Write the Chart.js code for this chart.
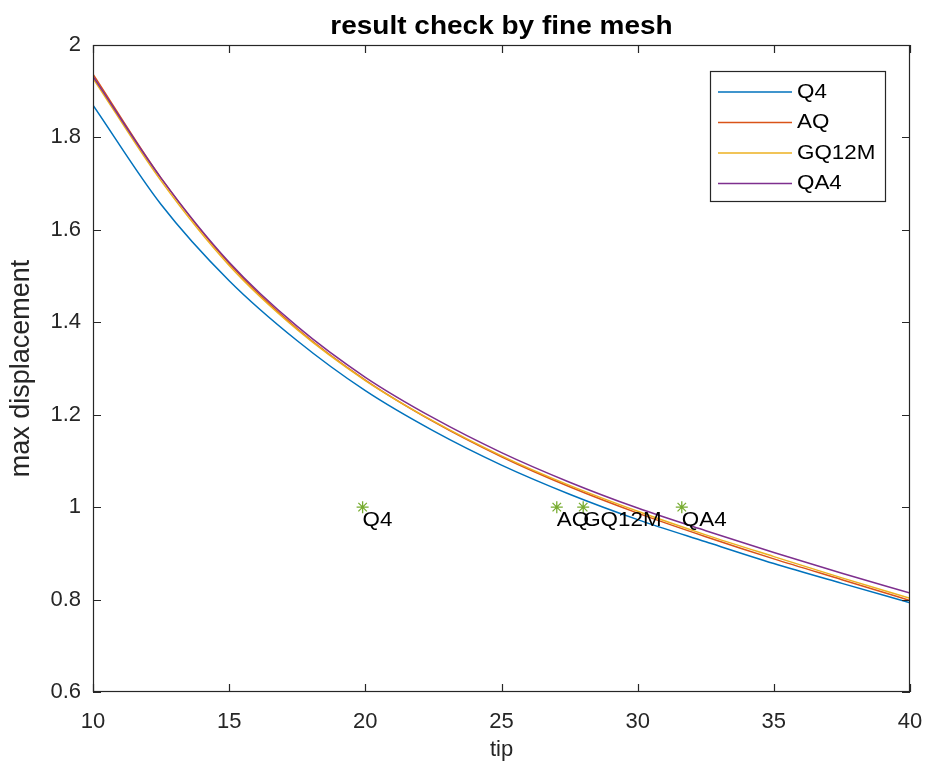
<!DOCTYPE html>
<html>
<head>
<meta charset="utf-8">
<script src="https://cdn.jsdelivr.net/npm/chart.js@4.4.1/dist/chart.umd.min.js"></script>
<style>
  html, body { margin: 0; padding: 0; background: #ffffff; }
  #c { display: block; }
</style>
</head>
<body>
<canvas id="c" width="929" height="774"></canvas>
<script>
// ---------- data ----------
const tipValues = [10, 12.5, 15, 17.5, 20, 22.5, 25, 27.5, 30, 32.5, 35, 37.5, 40];
const q4Disp    = [1.870, 1.655, 1.490, 1.360, 1.252, 1.165, 1.091, 1.028, 0.973, 0.925, 0.878, 0.835, 0.793];
const aqDisp    = [1.937, 1.712, 1.527, 1.386, 1.275, 1.185, 1.109, 1.044, 0.987, 0.936, 0.888, 0.843, 0.798];
const gq12mDisp = [1.928, 1.706, 1.523, 1.384, 1.274, 1.186, 1.111, 1.047, 0.991, 0.940, 0.893, 0.847, 0.803];
const qa4Disp   = [1.932, 1.712, 1.530, 1.391, 1.281, 1.193, 1.118, 1.054, 0.998, 0.949, 0.902, 0.857, 0.814];
const seriesNames = ['Q4', 'AQ', 'GQ12M', 'QA4'];

const markerX = [19.9, 27.03, 28.0, 31.62];
const markerY = [1, 1, 1, 1];
const markerLabels = ['Q4', 'AQ', 'GQ12M', 'QA4'];
const markerLabelY = 0.972;

const xTickValues = [10, 15, 20, 25, 30, 35, 40];
const yTickValues = [0.6, 0.8, 1, 1.2, 1.4, 1.6, 1.8, 2];

const chartTitle = 'result check by fine mesh';
const xTitle = 'tip';
const yTitle = 'max displacement';

// ---------- styles ----------
const seriesColors = ['#0072BD', '#D95319', '#EDB120', '#7E2F8E'];
const markerColor = '#77AC30';
const axisColor = '#262626';
const FONT = '"Liberation Sans", Arial, Helvetica, sans-serif';

const seriesArrays = [q4Disp, aqDisp, gq12mDisp, qa4Disp];
const datasets = seriesArrays.map((arr, i) => ({
  label: seriesNames[i],
  data: tipValues.map((x, j) => ({ x: x, y: arr[j] })),
  borderColor: seriesColors[i],
  backgroundColor: seriesColors[i],
  borderWidth: 1.5,
  pointRadius: 0,
  fill: false,
  cubicInterpolationMode: 'monotone',
  order: 4 - i,
  isSeries: true
}));
datasets.push({
  label: 'markers',
  type: 'scatter',
  data: markerX.map((x, j) => ({ x: x, y: markerY[j] })),
  borderColor: markerColor,
  backgroundColor: markerColor,
  pointStyle: 'star',
  pointRadius: 6,
  pointBorderWidth: 1.3,
  showLine: false,
  order: 0,
  isSeries: false
});

// draw text stretched horizontally (reference text is wider than tall)
const SX = 1.12;
function stretchedText(ctx, text, x, y, align) {
  ctx.save();
  ctx.translate(x, y);
  ctx.scale(SX, 1);
  ctx.textAlign = align;
  ctx.fillText(text, 0, 0);
  ctx.restore();
}

// ---------- plugins ----------
const framePlugin = {
  id: 'frame',
  afterDatasetsDraw(chart) {
    const { ctx, chartArea: a, scales: { x, y } } = chart;
    ctx.save();
    ctx.strokeStyle = axisColor;
    ctx.lineWidth = 1.2;
    ctx.strokeRect(a.left + 0.5, a.top + 0.5, a.right - a.left - 1, a.bottom - a.top - 1);
    const tl = 8;
    ctx.beginPath();
    xTickValues.forEach(v => {
      const px = Math.round(x.getPixelForValue(v)) + 0.5;
      ctx.moveTo(px, a.bottom); ctx.lineTo(px, a.bottom - tl);
      ctx.moveTo(px, a.top); ctx.lineTo(px, a.top + tl);
    });
    yTickValues.forEach(v => {
      const py = Math.round(y.getPixelForValue(v)) + 0.5;
      ctx.moveTo(a.left, py); ctx.lineTo(a.left + tl, py);
      ctx.moveTo(a.right, py); ctx.lineTo(a.right - tl, py);
    });
    ctx.stroke();

    // title
    ctx.fillStyle = '#000000';
    ctx.font = 'bold 25px ' + FONT;
    ctx.textBaseline = 'middle';
    stretchedText(ctx, chartTitle, (a.left + a.right) / 2, 27, 'center');

    // marker labels
    ctx.font = '20px ' + FONT;
    ctx.fillStyle = '#000000';
    markerLabels.forEach((t, j) => {
      stretchedText(ctx, t, x.getPixelForValue(markerX[j]), y.getPixelForValue(markerLabelY), 'left');
    });

    // legend
    const lx = 710, ly = 71, lw = 175, lh = 130;
    ctx.fillStyle = '#ffffff';
    ctx.fillRect(lx, ly, lw, lh);
    ctx.strokeStyle = axisColor;
    ctx.lineWidth = 1.2;
    ctx.strokeRect(lx + 0.5, ly + 0.5, lw, lh);
    ctx.font = '20px ' + FONT;
    ctx.textBaseline = 'middle';
    chart.data.datasets.filter(d => d.isSeries).forEach((d, i) => {
      const rowY = ly + 21 + i * 30.5;
      ctx.strokeStyle = d.borderColor;
      ctx.lineWidth = 1.5;
      ctx.beginPath();
      ctx.moveTo(lx + 8, rowY); ctx.lineTo(lx + 82, rowY);
      ctx.stroke();
      ctx.fillStyle = '#000000';
      stretchedText(ctx, d.label, lx + 87, rowY, 'left');
    });
    ctx.restore();
  }
};

new Chart(document.getElementById('c'), {
  type: 'line',
  data: { datasets: datasets },
  plugins: [framePlugin],
  options: {
    responsive: false,
    animation: false,
    devicePixelRatio: 1,
    layout: { padding: { left: 0, right: 19, top: 45, bottom: 0 } },
    plugins: { legend: { display: false }, title: { display: false }, tooltip: { enabled: false } },
    scales: {
      x: {
        type: 'linear',
        min: 10, max: 40,
        afterBuildTicks: s => { s.ticks = xTickValues.map(v => ({ value: v })); },
        afterFit: s => { s.height = 82; s.paddingLeft = 0; s.paddingRight = 0; },
        grid: { display: false, drawTicks: false },
        border: { display: false },
        ticks: { color: axisColor, font: { family: FONT, size: 22 }, padding: 17, maxRotation: 0, callback: v => String(v) },
        title: { display: true, text: xTitle, color: axisColor, font: { family: FONT, size: 22 }, padding: { top: 0, bottom: 11 } }
      },
      y: {
        type: 'linear',
        min: 0.6, max: 2,
        afterBuildTicks: s => { s.ticks = yTickValues.map(v => ({ value: v })); },
        afterFit: s => { s.width = 93; s.paddingTop = 0; s.paddingBottom = 0; },
        grid: { display: false, drawTicks: false },
        border: { display: false },
        ticks: { color: axisColor, font: { family: FONT, size: 22 }, padding: 12, callback: v => String(v) },
        title: { display: true, text: yTitle, color: axisColor, font: { family: FONT, size: 27 }, padding: { top: 5, bottom: 0 } }
      }
    }
  }
});
</script>
</body>
</html>
